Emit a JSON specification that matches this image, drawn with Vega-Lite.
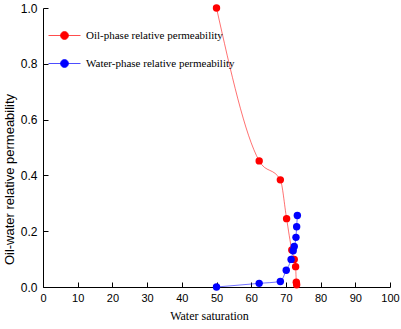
{
  "$schema": "https://vega.github.io/schema/vega-lite/v6.json",
  "width": 347,
  "height": 279,
  "autosize": {"type": "none"},
  "padding": {"left": 43, "top": 8, "right": 11, "bottom": 42},
  "background": "white",
  "config": {
    "view": {"stroke": null},
    "axis": {
      "grid": false,
      "domainColor": "#000000",
      "domainWidth": 1,
      "tickColor": "#000000",
      "tickWidth": 1,
      "tickSize": -5,
      "labelFont": "Liberation Sans",
      "labelColor": "#000000",
      "titleColor": "#000000",
      "titleFontWeight": "normal"
    }
  },
  "data": {
    "values": [
      {"series": "Oil-phase relative permeability", "sw": 50.0, "kr": 1.0},
      {"series": "Oil-phase relative permeability", "sw": 62.3, "kr": 0.452},
      {"series": "Oil-phase relative permeability", "sw": 68.4, "kr": 0.384},
      {"series": "Oil-phase relative permeability", "sw": 70.2, "kr": 0.245},
      {"series": "Oil-phase relative permeability", "sw": 71.7, "kr": 0.133},
      {"series": "Oil-phase relative permeability", "sw": 72.4, "kr": 0.099},
      {"series": "Oil-phase relative permeability", "sw": 72.8, "kr": 0.073},
      {"series": "Oil-phase relative permeability", "sw": 73.0, "kr": 0.017},
      {"series": "Oil-phase relative permeability", "sw": 73.1, "kr": 0.008},
      {"series": "Water-phase relative permeability", "sw": 50.0, "kr": 0.0},
      {"series": "Water-phase relative permeability", "sw": 62.3, "kr": 0.013},
      {"series": "Water-phase relative permeability", "sw": 68.4, "kr": 0.02},
      {"series": "Water-phase relative permeability", "sw": 70.1, "kr": 0.06},
      {"series": "Water-phase relative permeability", "sw": 71.5, "kr": 0.099},
      {"series": "Water-phase relative permeability", "sw": 72.1, "kr": 0.13},
      {"series": "Water-phase relative permeability", "sw": 72.4, "kr": 0.145},
      {"series": "Water-phase relative permeability", "sw": 72.9, "kr": 0.178},
      {"series": "Water-phase relative permeability", "sw": 73.1, "kr": 0.216},
      {"series": "Water-phase relative permeability", "sw": 73.3, "kr": 0.256}
    ]
  },
  "encoding": {
    "x": {
      "field": "sw", "type": "quantitative",
      "scale": {"domain": [0, 100], "nice": false, "zero": false},
      "axis": {
        "values": [0, 10, 20, 30, 40, 50, 60, 70, 80, 90, 100],
        "title": "Water saturation",
        "titleFont": "Liberation Serif",
        "titleFontSize": 12,
        "titlePadding": 7,
        "titleX": 166,
        "labelFontSize": 11,
        "labelPadding": 10,
        "labelFlush": false
      }
    },
    "y": {
      "field": "kr", "type": "quantitative",
      "scale": {"domain": [0, 1], "nice": false},
      "axis": {
        "values": [0, 0.2, 0.4, 0.6, 0.8, 1.0],
        "format": ".1f",
        "title": "Oil-water relative permeability",
        "titleFont": "Liberation Sans",
        "titleFontSize": 13,
        "titlePadding": 4,
        "titleY": 171,
        "labelFontSize": 12,
        "labelPadding": 11,
        "labelFlush": false
      }
    },
    "color": {
      "field": "series", "type": "nominal",
      "scale": {
        "domain": ["Oil-phase relative permeability", "Water-phase relative permeability"],
        "range": ["#ff0000", "#0000ff"]
      },
      "legend": {
        "title": null,
        "orient": "none",
        "legendX": 5,
        "legendY": 11,
        "labelFont": "Liberation Serif",
        "labelFontSize": 11,
        "labelColor": "#000000",
        "symbolType": "M-1,0L1,0M-0.25,0A0.25,0.25 0 1,1 0.25,0A0.25,0.25 0 1,1 -0.25,0Z",
        "symbolSize": 1024,
        "symbolStrokeWidth": 0.7,
        "symbolOpacity": 1,
        "rowPadding": 6,
        "labelOffset": 5
      }
    }
  },
  "layer": [
    {
      "mark": {"type": "line", "interpolate": "monotone", "strokeWidth": 0.8, "strokeOpacity": 0.7}
    },
    {
      "mark": {"type": "point", "filled": true, "size": 55, "opacity": 1}
    }
  ]
}
